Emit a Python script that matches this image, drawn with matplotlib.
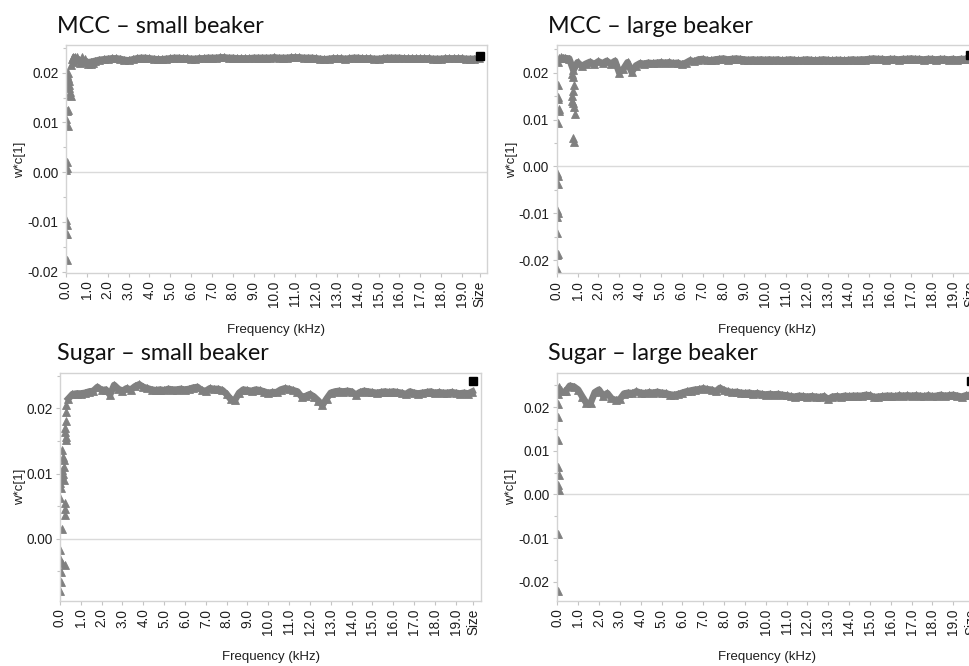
import numpy as np
import matplotlib
matplotlib.use("Agg")
import matplotlib.pyplot as plt
from matplotlib.ticker import MultipleLocator, FixedLocator

plt.rcParams['font.family'] = ['Liberation Sans', 'DejaVu Sans']
plt.rcParams['axes.unicode_minus'] = False

# ---------------------------------------------------------------------------
# Loading values w*c[1] per frequency bin (kHz)
# ---------------------------------------------------------------------------
freq_grid = np.round(0.4 + 0.2 * np.arange(98), 1)   # 0.4 ... 19.8 kHz

mcc_small = [
    0.0229, 0.0226, 0.0224, 0.0221, 0.0222, 0.0224, 0.0226, 0.0227, 0.0228, 0.0229,
    0.0229, 0.0228, 0.0226, 0.0225, 0.0227, 0.0229, 0.0230, 0.0230, 0.0229, 0.0228,
    0.0227, 0.0227, 0.0228, 0.0229, 0.0230, 0.0230, 0.0229, 0.0229, 0.0228, 0.0228,
    0.0229, 0.0229, 0.0230, 0.0230, 0.0230, 0.0231, 0.0231, 0.0230, 0.0230, 0.0229,
    0.0229, 0.0229, 0.0229, 0.0230, 0.0230, 0.0230, 0.0230, 0.0230, 0.0231, 0.0230,
    0.0230, 0.0230, 0.0231, 0.0231, 0.0231, 0.0230, 0.0230, 0.0230, 0.0229, 0.0228,
    0.0227, 0.0228, 0.0229, 0.0229, 0.0229, 0.0228, 0.0229, 0.0230, 0.0230, 0.0229,
    0.0229, 0.0229, 0.0228, 0.0228, 0.0229, 0.0230, 0.0230, 0.0230, 0.0230, 0.0229,
    0.0229, 0.0229, 0.0229, 0.0229, 0.0229, 0.0229, 0.0228, 0.0228, 0.0228, 0.0229,
    0.0229, 0.0229, 0.0229, 0.0229, 0.0228, 0.0228, 0.0228, 0.0229,
]
mcc_small_low_f = [0.00, 0.02, 0.05, 0.08, 0.10, 0.12, 0.14, 0.16, 0.18, 0.20, 0.22,
                   0.25, 0.28, 0.32, 0.35, 0.45, 0.55, 0.65, 0.75, 0.90, 1.05, 1.20, 1.30,
                   0.05, 0.10, 0.00, 0.10, 0.07, 0.03, 0.00, 0.00, 0.05, 0.00, 0.07, 0.05]
mcc_small_low_w = [0.0202, 0.0198, 0.0195, 0.0200, 0.0190, 0.0183, 0.0176, 0.0169, 0.0162,
                   0.0155, 0.0153, 0.0215, 0.0228, 0.0232, 0.0222, 0.0232, 0.0231, 0.0219,
                   0.0231, 0.0227, 0.0218, 0.0217, 0.0220,
                   0.0124, 0.0125, 0.0107, 0.0093, 0.0021, 0.0008, 0.0005,
                   -0.0097, -0.0107, -0.0124, -0.0124, -0.0176]

mcc_large = [
    0.0231, 0.0230, 0.0205, 0.0222, 0.0214, 0.0219, 0.0223, 0.0218, 0.0224, 0.0220,
    0.0225, 0.0219, 0.0225, 0.0200, 0.0208, 0.0222, 0.0201, 0.0215, 0.0220, 0.0219,
    0.0221, 0.0220, 0.0221, 0.0222, 0.0221, 0.0222, 0.0220, 0.0221, 0.0218, 0.0221,
    0.0226, 0.0224, 0.0228, 0.0229, 0.0227, 0.0226, 0.0228, 0.0229, 0.0230, 0.0228,
    0.0229, 0.0230, 0.0229, 0.0228, 0.0227, 0.0228, 0.0227, 0.0228, 0.0227, 0.0228,
    0.0227, 0.0228, 0.0226, 0.0227, 0.0228, 0.0227, 0.0226, 0.0227, 0.0228, 0.0227,
    0.0226, 0.0227, 0.0228, 0.0227, 0.0226, 0.0227, 0.0227, 0.0226, 0.0227, 0.0228,
    0.0227, 0.0228, 0.0228, 0.0229, 0.0230, 0.0229, 0.0229, 0.0228, 0.0229, 0.0229,
    0.0228, 0.0229, 0.0229, 0.0230, 0.0229, 0.0229, 0.0228, 0.0229, 0.0229, 0.0228,
    0.0229, 0.0229, 0.0228, 0.0229, 0.0228, 0.0229, 0.0229, 0.0229,
]
mcc_large_low_f = [0.05, 0.10, 0.20, 0.30,
                   0.08, 0.05, 0.08, 0.10, 0.12, 0.08, 0.03, 0.05, 0.07, 0.02, 0.05,
                   0.03, 0.02, 0.05, 0.03, 0.00,
                   0.72, 0.75, 0.78, 0.80, 0.82, 0.85, 0.88, 0.80, 0.83, 0.75, 0.78]
mcc_large_low_w = [0.0222, 0.0232, 0.0233, 0.0232,
                   0.0174, 0.0148, 0.0143, 0.0122, 0.0118, 0.0092, -0.0015, -0.0020,
                   -0.0038, -0.0093, -0.0100, -0.0107, -0.0141, -0.0186, -0.0190, -0.0218,
                   0.0150, 0.0140, 0.0160, 0.0135, 0.0127, 0.0174, 0.0112, 0.0061, 0.0053,
                   0.0198, 0.0190]

sugar_small = [
    0.0215, 0.0222, 0.0223, 0.0223, 0.0224, 0.0226, 0.0227, 0.0233, 0.0228, 0.0229,
    0.0221, 0.0236, 0.0230, 0.0227, 0.0231, 0.0229, 0.0234, 0.0237, 0.0233, 0.0231,
    0.0229, 0.0228, 0.0229, 0.0228, 0.0230, 0.0229, 0.0229, 0.0230, 0.0229, 0.0230,
    0.0232, 0.0233, 0.0228, 0.0227, 0.0231, 0.0230, 0.0230, 0.0228, 0.0222, 0.0214,
    0.0213, 0.0224, 0.0229, 0.0228, 0.0227, 0.0229, 0.0228, 0.0226, 0.0224, 0.0225,
    0.0225, 0.0229, 0.0231, 0.0230, 0.0228, 0.0226, 0.0218, 0.0219, 0.0222, 0.0218,
    0.0212, 0.0205, 0.0215, 0.0224, 0.0226, 0.0227, 0.0226, 0.0227, 0.0226, 0.0221,
    0.0225, 0.0227, 0.0226, 0.0225, 0.0224, 0.0225, 0.0226, 0.0225, 0.0226, 0.0225,
    0.0224, 0.0222, 0.0226, 0.0224, 0.0223, 0.0224, 0.0225, 0.0226, 0.0224, 0.0225,
    0.0224, 0.0224, 0.0225, 0.0224, 0.0223, 0.0224, 0.0223, 0.0226,
]
sugar_small_low_f = [0.30, 0.30, 0.28, 0.25, 0.25, 0.27, 0.27, 0.12, 0.15, 0.17, 0.10,
                     0.15, 0.12, 0.05, 0.00, 0.07, 0.00, 0.22, 0.22, 0.25, 0.12, 0.00,
                     0.02, 0.10, 0.22, 0.05, 0.05, 0.00, 0.20, 0.18]
sugar_small_low_w = [0.0205, 0.0195, 0.0180, 0.0170, 0.0164, 0.0156, 0.0151, 0.0136,
                     0.0126, 0.0121, 0.0105, 0.0100, 0.0097, 0.0092, 0.0085, 0.0077,
                     0.0062, 0.0054, 0.0046, 0.0036, 0.0015, -0.0018, -0.0031, -0.0038,
                     -0.0040, -0.0051, -0.0067, -0.0080, 0.0090, 0.0110]

sugar_large = [
    0.0236, 0.0249, 0.0247, 0.0240, 0.0224, 0.0209, 0.0210, 0.0234, 0.0240, 0.0226,
    0.0232, 0.0220, 0.0216, 0.0218, 0.0231, 0.0233, 0.0232, 0.0236, 0.0233, 0.0232,
    0.0234, 0.0233, 0.0235, 0.0233, 0.0232, 0.0229, 0.0228, 0.0230, 0.0233, 0.0236,
    0.0238, 0.0240, 0.0241, 0.0243, 0.0241, 0.0240, 0.0236, 0.0244, 0.0239, 0.0236,
    0.0234, 0.0235, 0.0233, 0.0232, 0.0233, 0.0231, 0.0232, 0.0230, 0.0229, 0.0230,
    0.0229, 0.0230, 0.0228, 0.0227, 0.0225, 0.0224, 0.0226, 0.0225, 0.0224, 0.0225,
    0.0224, 0.0223, 0.0225, 0.0218, 0.0224, 0.0225, 0.0224, 0.0226, 0.0225, 0.0226,
    0.0226, 0.0226, 0.0228, 0.0227, 0.0223, 0.0224, 0.0225, 0.0226, 0.0226, 0.0225,
    0.0227, 0.0226, 0.0227, 0.0226, 0.0227, 0.0226, 0.0225, 0.0227, 0.0225, 0.0226,
    0.0228, 0.0226, 0.0227, 0.0228, 0.0226, 0.0224, 0.0227, 0.0228,
]
sugar_large_low_f = [0.02, 0.10, 0.20, 0.30,
                     0.05, 0.05, 0.05, 0.05, 0.07, 0.05, 0.07, 0.05, 0.03]
sugar_large_low_w = [0.0230, 0.0247, 0.0240, 0.0238,
                     0.0208, 0.0178, 0.0124, 0.0063, 0.0044, 0.0021, 0.0010,
                     -0.0090, -0.0220]

# "Size" variable loading (last variable on the x axis)
size_pos = 19.85
size_w = [0.0233, 0.0238, 0.0242, 0.0259]

panel_titles = ["MCC \u2013 small beaker", "MCC \u2013 large beaker",
                "Sugar \u2013 small beaker", "Sugar \u2013 large beaker"]
x_tick_pos = list(range(20)) + [size_pos]
x_tick_labels = [f"{k}.0" for k in range(20)] + ["Size"]
y_ticks_full = [-0.02, -0.01, 0.00, 0.01, 0.02]
y_ticks_short = [0.00, 0.01, 0.02]

# ---------------------------------------------------------------------------
W, H = 970, 666
fig = plt.figure(figsize=(W / 100, H / 100), dpi=100)
fig.patch.set_facecolor("white")


def box(left, top, right, bottom):
    return [left / W, 1 - bottom / H, (right - left) / W, (bottom - top) / H]


panels = [
    dict(rect=box(66, 45, 487, 273), grid=mcc_small, lf=mcc_small_low_f, lw=mcc_small_low_w,
         ylim=(-0.0203, 0.0256), yt=y_ticks_full, title=(57, 33), ylab=(20, 160), xlab=(276, 330)),
    dict(rect=box(556.7, 45, 977.7, 273.3), grid=mcc_large, lf=mcc_large_low_f, lw=mcc_large_low_w,
         ylim=(-0.0228, 0.0259), yt=y_ticks_full, title=(548, 33), ylab=(512, 160), xlab=(767, 330)),
    dict(rect=box(60, 372.7, 480.7, 601), grid=sugar_small, lf=sugar_small_low_f, lw=sugar_small_low_w,
         ylim=(-0.0096, 0.0255), yt=y_ticks_short, title=(57, 360), ylab=(20, 487), xlab=(271, 657)),
    dict(rect=box(557.3, 372.7, 978.3, 601), grid=sugar_large, lf=sugar_large_low_f, lw=sugar_large_low_w,
         ylim=(-0.0244, 0.0279), yt=y_ticks_full, title=(548, 360), ylab=(511, 487), xlab=(767, 657)),
]

grey = "#808080"
frame = "#d3d3d3"

for i, p in enumerate(panels):
    ax = fig.add_axes(p["rect"])
    ax.set_facecolor("white")
    ax.axhline(0.0, color="#dadada", lw=1.0, zorder=0)
    # dense run of triangle markers merges into a band
    ax.plot(freq_grid, p["grid"], linestyle="-", lw=4.8, solid_joinstyle="round",
            marker="^", ms=6.0, color=grey, mec=grey, mew=0.6, zorder=2)
    ax.plot(p["lf"], p["lw"], linestyle="none", marker="^", ms=5.2,
            color=grey, mec=grey, mew=0.6, zorder=2)
    ax.plot([size_pos], [size_w[i]], linestyle="none", marker="s", ms=5.5,
            color="black", zorder=3)

    ax.set_xlim(0, 20.2)
    ax.set_ylim(*p["ylim"])
    ax.xaxis.set_major_locator(FixedLocator(x_tick_pos))
    ax.set_xticklabels(x_tick_labels, rotation=90)
    ax.set_yticks(p["yt"])
    ax.set_yticklabels([f"{v:.2f}" for v in p["yt"]])
    ax.yaxis.set_minor_locator(MultipleLocator(0.005))

    for s in ax.spines.values():
        s.set_color(frame)
        s.set_linewidth(1.0)
    ax.tick_params(axis="both", which="both", direction="out", color="#c4c4c4",
                   length=3, width=0.8, labelsize=9.8, labelcolor="#1e1e1e", pad=2.5)
    ax.tick_params(axis="y", which="minor", length=2)

    fig.text(p["title"][0] / W, 1 - p["title"][1] / H, panel_titles[i],
             family=["Lato", "DejaVu Sans"], fontsize=16.8, ha="left", va="baseline",
             color="#111111")
    fig.text(p["ylab"][0] / W, 1 - p["ylab"][1] / H, "w*c[1]", rotation=90,
             ha="center", va="center", fontsize=9.5, color="#1e1e1e")
    fig.text(p["xlab"][0] / W, 1 - p["xlab"][1] / H, "Frequency (kHz)",
             ha="center", va="center", fontsize=9.5, color="#1e1e1e")

fig.savefig("out.png", dpi=100, facecolor="white")
